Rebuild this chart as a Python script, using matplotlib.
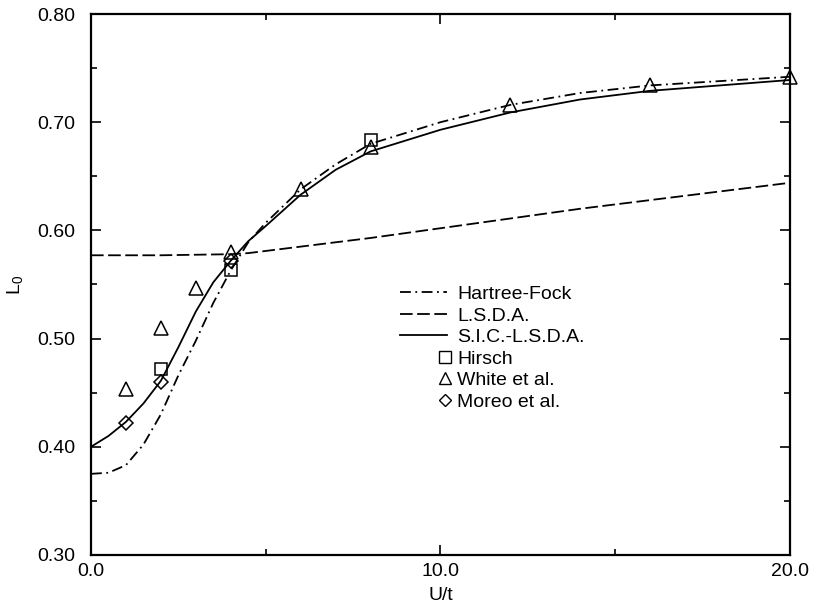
import matplotlib
matplotlib.use('Agg')
import matplotlib.pyplot as plt
from matplotlib.lines import Line2D
from matplotlib.legend_handler import HandlerLine2D
from matplotlib.ticker import MultipleLocator, FormatStrFormatter
import numpy as np

plt.rcParams.update({
    'font.family': 'Liberation Sans',
    'font.size': 14,
    'xtick.direction': 'in',
    'ytick.direction': 'in',
})

# ── data ─────────────────────────────────────────────────────────────────────
u_hf = [0, 0.5, 1.0, 1.5, 2.0, 2.5, 3.0, 3.5, 4.0, 4.5, 5, 6, 7, 8, 10, 12, 14, 16, 18, 20]
L_hf = [0.375, 0.376, 0.383, 0.402, 0.430, 0.466, 0.498, 0.533, 0.563, 0.589, 0.607, 0.638,
        0.661, 0.680, 0.700, 0.716, 0.727, 0.734, 0.738, 0.742]

u_lsda = [0, 2, 4, 4.5, 5, 6, 8, 10, 12, 14, 16, 18, 20]
L_lsda = [0.577, 0.577, 0.578, 0.579, 0.581, 0.585, 0.593, 0.602, 0.611, 0.620, 0.628, 0.636, 0.644]

u_sic = [0, 0.5, 1, 1.5, 2, 2.5, 3, 3.5, 4, 4.5, 5, 6, 7, 8, 10, 12, 14, 16, 18, 20]
L_sic = [0.400, 0.410, 0.423, 0.440, 0.461, 0.492, 0.525, 0.552, 0.572, 0.590, 0.604, 0.633,
         0.656, 0.673, 0.693, 0.709, 0.721, 0.729, 0.734, 0.739]

u_hirsch = [2, 4, 8]
L_hirsch = [0.472, 0.563, 0.684]

u_white = [1, 2, 3, 4, 6, 8, 12, 16, 20]
L_white = [0.453, 0.510, 0.547, 0.580, 0.638, 0.677, 0.716, 0.734, 0.742]

u_moreo = [1, 2, 4]
L_moreo = [0.422, 0.460, 0.572]


class RightMarker(HandlerLine2D):
    # put the marker at the right end of the handle, like the original key
    def get_xdata(self, legend, xdescent, ydescent, width, height, fontsize):
        xr = width - xdescent - 0.1 * fontsize
        return np.array([xr, xr]), np.array([xr])


fig = plt.figure(figsize=(8.16, 6.09), dpi=100)
ax = fig.add_axes([0.1115, 0.0887, 0.8565, 0.8883])

lw = 1.3
ax.plot(u_hf, L_hf, color='black', lw=lw, dashes=(6, 2.5, 1, 2.5))
ax.plot(u_lsda, L_lsda, color='black', lw=lw, dashes=(7, 2.5))
ax.plot(u_sic, L_sic, color='black', lw=lw)

mk = dict(color='black', mfc='none', mew=1.1, ls='none', clip_on=False)
ax.plot(u_hirsch, L_hirsch, marker='s', ms=9, **mk)
ax.plot(u_white, L_white, marker='^', ms=10, **mk)
ax.plot(u_moreo, L_moreo, marker='D', ms=7.5, **mk)

ax.set_xlim(0, 20)
ax.set_ylim(0.30, 0.80)
ax.xaxis.set_major_locator(MultipleLocator(10))
ax.xaxis.set_minor_locator(MultipleLocator(5))
ax.yaxis.set_major_locator(MultipleLocator(0.1))
ax.yaxis.set_minor_locator(MultipleLocator(0.05))
ax.xaxis.set_major_formatter(FormatStrFormatter('%.1f'))
ax.yaxis.set_major_formatter(FormatStrFormatter('%.2f'))
ax.tick_params(which='both', top=True, right=True, width=1.2)
ax.tick_params(which='major', length=7)
ax.tick_params(which='minor', length=4)
ax.tick_params(axis='y', which='major', pad=11)
ax.tick_params(axis='x', which='major', pad=6)
for s in ax.spines.values():
    s.set_linewidth(1.6)

ax.set_xlabel('U/t', labelpad=5)
ax.set_ylabel(r'L$_\mathregular{0}$', labelpad=8)

handles = [
    Line2D([], [], color='black', lw=lw, dashes=(6, 2.5, 1, 2.5)),
    Line2D([], [], color='black', lw=lw, dashes=(7, 2.5)),
    Line2D([], [], color='black', lw=lw),
    Line2D([], [], color='black', marker='s', mfc='none', ms=8, ls='none'),
    Line2D([], [], color='black', marker='^', mfc='none', ms=9, ls='none'),
    Line2D([], [], color='black', marker='D', mfc='none', ms=6.5, ls='none'),
]
labels = ['Hartree-Fock', 'L.S.D.A.', 'S.I.C.-L.S.D.A.', 'Hirsch', 'White et al.', 'Moreo et al.']
hm = {h: RightMarker(numpoints=1) for h in handles[3:]}
ax.legend(handles, labels, handler_map=hm, frameon=False, fontsize=14,
          loc='upper left', bbox_to_anchor=(0.442, 0.498), handlelength=2.4,
          handletextpad=0.55, labelspacing=0.2, borderaxespad=0, borderpad=0)

fig.savefig('out.png', dpi=100)
